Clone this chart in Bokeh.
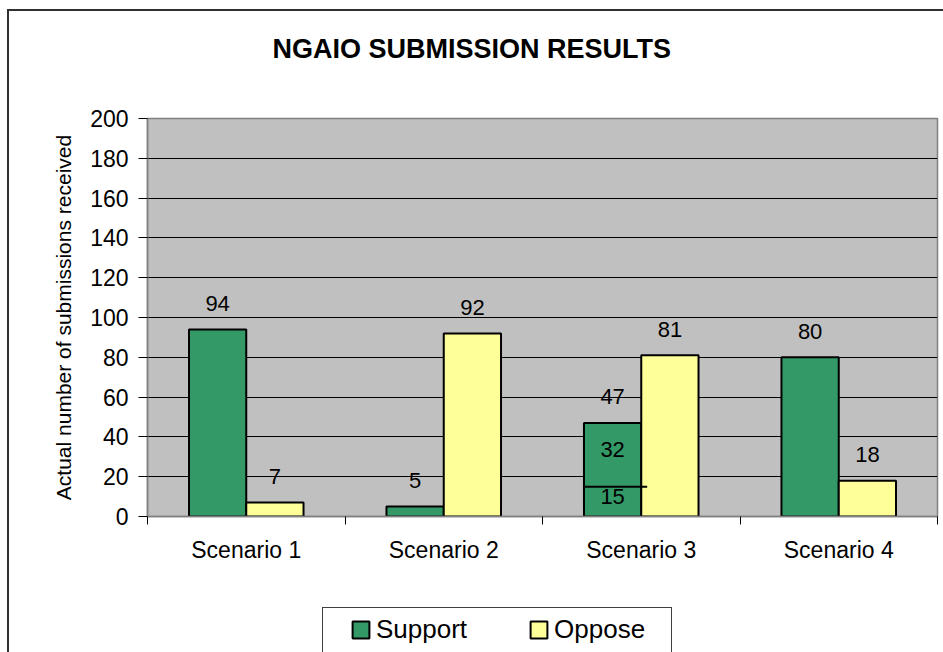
from bokeh.plotting import figure
from bokeh.layouts import column
from bokeh.models import (ColumnDataSource, FixedTicker, LabelSet, Legend, LegendItem,
                          Range1d, InlineStyleSheet, Title)
from bokeh.embed import file_html
from bokeh.resources import INLINE
from bokeh.core.properties import value

# ---------------- data ----------------
categories = ["Scenario 1", "Scenario 2", "Scenario 3", "Scenario 4"]
support = [94, 5, 47, 80]
oppose = [7, 92, 81, 18]
# Scenario 3 "Support" bar is split into two parts
split_category = "Scenario 3"
split_parts = [15, 32]
y_ticks = [0, 20, 40, 60, 80, 100, 120, 140, 160, 180, 200]
title_text = "NGAIO SUBMISSION RESULTS"
y_label = "Actual number of submissions received"
series_names = ["Support", "Oppose"]

# ---------------- style ----------------
FONT = "Liberation Sans"
GREEN = "#339966"
YELLOW = "#ffff99"
BAR_W = 0.29
OFF = 0.145

centers = [i + 0.5 for i in range(len(categories))]

p = figure(width=943, height=600, title=None,
           x_range=Range1d(0, len(categories)), y_range=Range1d(y_ticks[0], y_ticks[-1]),
           output_backend="svg", toolbar_location=None,
           min_border_left=147, min_border_right=6, min_border_top=118, min_border_bottom=84,
           background_fill_color="#c0c0c0", border_fill_color="white",
           outline_line_color="#808080", outline_line_width=1.5)

src = ColumnDataSource(dict(
    x_s=[c - OFF for c in centers],
    x_o=[c + OFF for c in centers],
    support=support, oppose=oppose,
    lab_s=[str(v) for v in support], lab_o=[str(v) for v in oppose],
))

p.vbar(x="x_s", top="support", width=BAR_W, source=src,
       fill_color=GREEN, line_color="black", line_width=2)
p.vbar(x="x_o", top="oppose", width=BAR_W, source=src,
       fill_color=YELLOW, line_color="black", line_width=2)

# split line and inner labels for scenario 3
si = categories.index(split_category)
split_src = ColumnDataSource(dict(
    x0=[centers[si] - OFF - BAR_W / 2], x1=[centers[si] + 0.03],
    y=[split_parts[0]],
))
p.segment(x0="x0", y0="y", x1="x1", y1="y", source=split_src,
          line_color="black", line_width=2)

inner_y = [split_parts[0] / 2, split_parts[0] + split_parts[1] / 2]
inner_src = ColumnDataSource(dict(
    x=[centers[si] - OFF] * 2, y=inner_y,
    t=[str(split_parts[0]), str(split_parts[1])],
))
p.add_layout(LabelSet(x="x", y="y", text="t", source=inner_src, y_offset=5,
                      text_align="center", text_baseline="middle",
                      text_font=value(FONT), text_font_size=value("22px"),
                      text_color="black"))

for xcol, ycol, tcol in [("x_s", "support", "lab_s"), ("x_o", "oppose", "lab_o")]:
    p.add_layout(LabelSet(x=xcol, y=ycol, text=tcol, source=src, y_offset=26,
                          text_align="center", text_baseline="middle",
                          text_font=value(FONT), text_font_size=value("22px"),
                          text_color="black"))

# ---------------- axes ----------------
p.xaxis.ticker = FixedTicker(ticks=centers, minor_ticks=list(range(len(categories) + 1)))
p.xaxis.major_label_overrides = {c: cat for c, cat in zip(centers, categories)}
p.xaxis.major_tick_out = 0
p.xaxis.major_tick_in = 0
p.xaxis.minor_tick_out = 8
p.xaxis.minor_tick_in = 0
p.xaxis.minor_tick_line_color = "black"
p.xaxis.major_label_standoff = 12

p.yaxis.ticker = FixedTicker(ticks=y_ticks)
p.yaxis.major_tick_out = 9
p.yaxis.major_tick_in = 0
p.yaxis.minor_tick_line_color = None
p.yaxis.major_label_standoff = 10
p.yaxis.axis_label = y_label
p.yaxis.axis_label_text_font = FONT
p.yaxis.axis_label_text_font_size = "21px"
p.yaxis.axis_label_text_font_style = "normal"
p.yaxis.axis_label_text_color = "black"
p.yaxis.axis_label_standoff = 12

for ax in (p.xaxis, p.yaxis):
    ax.axis_line_color = "#808080"
    ax.axis_line_width = 1.5
    ax.major_tick_line_color = "black"
    ax.major_label_text_font = FONT
    ax.major_label_text_font_size = "23px"
    ax.major_label_text_color = "black"

p.xgrid.visible = False
p.ygrid.ticker = FixedTicker(ticks=y_ticks)
p.ygrid.grid_line_color = "black"
p.ygrid.grid_line_width = 1

# ---------------- title (spacer keeps it high above the frame) ----------------
p.add_layout(Title(text=" ", text_font_size="10px", standoff=42), "above")
p.add_layout(Title(text=title_text, align="left", offset=125, standoff=0,
                   vertical_align="bottom", text_font=FONT, text_font_size="27px",
                   text_font_style="bold", text_color="black"), "above")

# ---------------- legend (own strip below the chart) ----------------
pl = figure(width=943, height=52, title=None, x_range=Range1d(0, 1), y_range=Range1d(0, 1),
            output_backend="svg", toolbar_location=None,
            x_axis_location=None, y_axis_location=None, min_border=0,
            outline_line_color=None, background_fill_color="white", border_fill_color="white")
pl.grid.grid_line_color = None
# hidden swatch renderers that only provide the legend glyph styles
swatch = ColumnDataSource(dict(x=[0.5], top=[0.0]))
l_s = pl.vbar(x="x", top="top", width=0.1, source=swatch, visible=False,
              fill_color=GREEN, line_color="black", line_width=2)
l_o = pl.vbar(x="x", top="top", width=0.1, source=swatch, visible=False,
              fill_color=YELLOW, line_color="black", line_width=2)
legend = Legend(items=[LegendItem(label=series_names[0], renderers=[l_s]),
                       LegendItem(label=series_names[1], renderers=[l_o])],
                location=(203, 7), orientation="horizontal",
                padding=0, spacing=61, label_standoff=5, margin=0,
                glyph_width=21, glyph_height=21,
                label_text_font=FONT, label_text_font_size="26px",
                label_text_color="black", inactive_fill_alpha=0,
                border_line_alpha=0, background_fill_alpha=0)
pl.add_layout(legend, "center")

# legend box and outer chart border (drawn as CSS overlays)
css = InlineStyleSheet(css="""
:host::before {
  content: ""; position: absolute; pointer-events: none; z-index: 5;
  left: 322px; top: 607px; width: 350px; height: 45px; box-sizing: border-box;
  border-left: 1.5px solid #404040; border-top: 1.5px solid #404040; border-right: 1.5px solid #404040;
}
:host::after {
  content: ""; position: absolute; pointer-events: none; z-index: 5;
  left: 7px; top: 9px; width: 936px; height: 643px; box-sizing: border-box;
  border-left: 2px solid #303030; border-top: 2px solid #303030;
}
""")
root = column(p, pl, spacing=0, stylesheets=[css])

open("out.html", "w").write(file_html(root, INLINE))
